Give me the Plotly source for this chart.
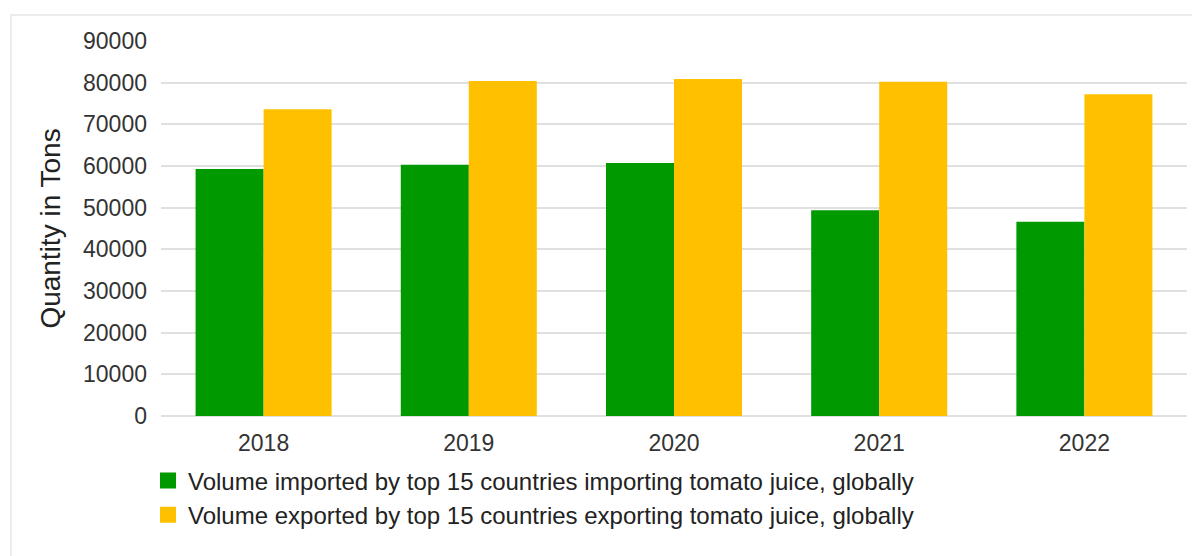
import plotly.graph_objects as go

years = ["2018", "2019", "2020", "2021", "2022"]
imported = [59300, 60300, 60700, 49400, 46600]
exported = [73600, 80400, 80900, 80200, 77200]
name_imp = "Volume imported by top 15 countries importing tomato juice, globally"
name_exp = "Volume exported by top 15 countries exporting tomato juice, globally"
green = "#009900"
orange = "#FFC000"
y_ticks = [0, 10000, 20000, 30000, 40000, 50000, 60000, 70000, 80000, 90000]

OFF = 8  # default page body margin
W, H = 1200 - OFF, 556 - OFF
# plot area in page pixels: x 161..1187, y 41..416.5
L, R = 161 - OFF, 1200 - 1187
T, B = 41 - OFF, 556 - 416.5
pw, ph = W - L - R, H - T - B

def px(x):  # page pixel -> paper
    return (x - OFF - L) / pw

def py(y):
    return (H - B - (y - OFF)) / ph

fig = go.Figure()
fig.add_trace(go.Bar(x=years, y=imported, name=name_imp, marker_color=green,
                     marker_line_width=0, showlegend=False))
fig.add_trace(go.Bar(x=years, y=exported, name=name_exp, marker_color=orange,
                     marker_line_width=0, showlegend=False))
fig.add_trace(go.Scatter(x=[None], y=[None], mode="markers", name=name_imp,
                         marker=dict(symbol="square", size=20, color=green)))
fig.add_trace(go.Scatter(x=[None], y=[None], mode="markers", name=name_exp,
                         marker=dict(symbol="square", size=20, color=orange)))

fig.update_layout(
    width=W, height=H,
    margin=dict(l=L, r=R, t=T, b=B, pad=0),
    paper_bgcolor="white", plot_bgcolor="white",
    font=dict(family="Liberation Sans, Arial, sans-serif", size=23, color="#333333"),
    barmode="group", bargap=0.337, bargroupgap=0,
    showlegend=True,
    legend=dict(x=px(148), y=py(459), xanchor="left", yanchor="top",
                orientation="v", font=dict(size=24, color="#222222"),
                tracegroupgap=0, itemsizing="trace", bgcolor="rgba(0,0,0,0)"),
    xaxis=dict(showgrid=False, showline=False, zeroline=False, ticks="",
               tickfont=dict(size=23, color="#333333"), ticklabelstandoff=11),
    yaxis=dict(range=[0, 90000], tickvals=y_ticks, tickformat="d", showgrid=True,
               gridcolor="#e0e0e0", gridwidth=2, zeroline=True,
               zerolinecolor="#e0e0e0", zerolinewidth=2, showline=False,
               ticks="", ticklabelstandoff=13,
               tickfont=dict(size=23, color="#333333"),
               title=dict(text="Quantity in Tons", standoff=14,
                          font=dict(size=28, color="#222222"))),
    shapes=[dict(type="rect", xref="paper", yref="paper",
                 x0=px(11), x1=px(1215), y0=py(575), y1=py(15),
                 line=dict(color="#e6e6e6", width=1.5), fillcolor="rgba(0,0,0,0)",
                 layer="below")],
)

fig.write_html("out.html")
